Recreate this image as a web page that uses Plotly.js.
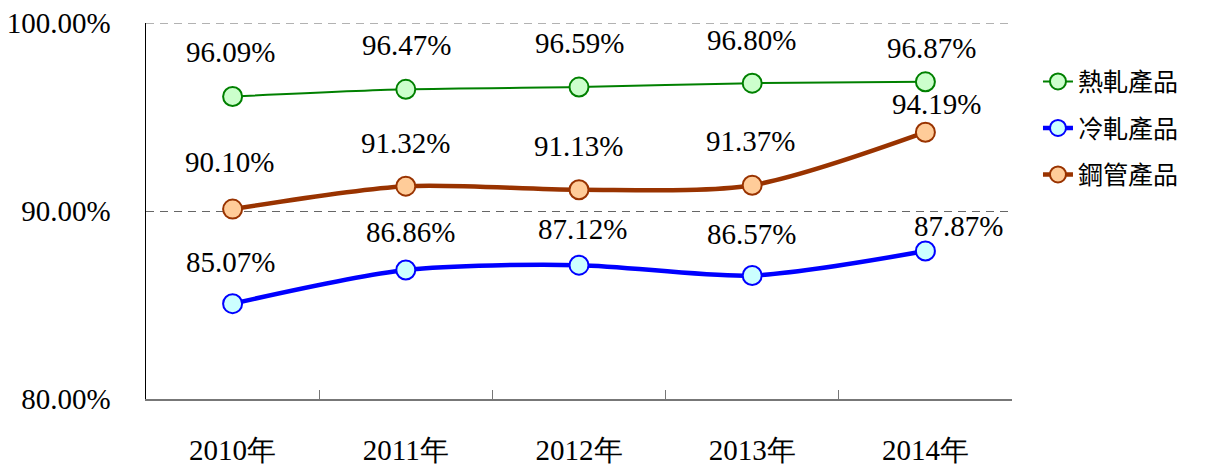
<!DOCTYPE html>
<html><head><meta charset="utf-8">
<script src="https://cdn.plot.ly/plotly-3.0.1.min.js"></script>
<style>html,body{margin:0;padding:0;background:#fff}#c{width:1221px;height:467px}
#c text{font-family:'Liberation Serif',serif !important}
#c text.legendtext{font-family:'Noto Sans CJK TC',sans-serif !important}</style>
</head><body>
<div id="c"></div>
<script>
const years = ["2010年","2011年","2012年","2013年","2014年"];
const hotRolled = [96.09, 96.47, 96.59, 96.80, 96.87];
const coldRolled = [85.07, 86.86, 87.12, 86.57, 87.87];
const steelPipe = [90.10, 91.32, 91.13, 91.37, 94.19];
const seriesNames = ["熱軋產品","冷軋產品","鋼管產品"];
const yTicks = [80, 90, 100];
const yTickLabels = ["80.00%","90.00%","100.00%"];

const serifFont = 'Liberation Serif';
const series = [
  {y: hotRolled, name: seriesNames[0], line: '#008000', fill: '#ccffcc', w: 2,
   dy: [45, 44, 44, 43, 34], dx: [-2, 1, 0, -1, 6]},
  {y: coldRolled, name: seriesNames[1], line: '#0000ff', fill: '#ccffff', w: 4.5,
   dy: [42, 38, 36, 41, 25], dx: [-2, 5, 3, -1, 33]},
  {y: steelPipe, name: seriesNames[2], line: '#993300', fill: '#ffcc99', w: 4.5,
   dy: [47, 43, 44, 44, 28], dx: [-3, 0, -1, -2, 11]}
];

const traces = series.map((s, i) => ({
  x: years, y: s.y, name: s.name, type: 'scatter', mode: 'lines+markers',
  legendgroup: 'g' + i,
  line: {color: s.line, width: s.w, shape: 'spline', smoothing: 0.8},
  marker: {size: 19, color: s.fill, line: {color: s.line, width: 2}},
  hoverinfo: 'skip'
}));

const annotations = [];
series.forEach(s => {
  s.y.forEach((v, j) => {
    annotations.push({
      x: years[j], y: v, xref: 'x', yref: 'y', text: v.toFixed(2) + '%',
      showarrow: false, yshift: s.dy[j], xshift: s.dx[j],
      font: {family: serifFont, size: 29, color: '#000000'}
    });
  });
});

const layout = {
  width: 1221, height: 467,
  font: {family: serifFont, size: 29, color: '#000000'},
  margin: {l: 146, r: 209, t: 23, b: 68, autoexpand: false},
  paper_bgcolor: '#fff', plot_bgcolor: '#fff',
  showlegend: true,
  legend: {x: 1.03, xanchor: 'left', y: 0.905, yanchor: 'top',
    font: {family: 'Noto Sans CJK TC', size: 25, color: '#000000'},
    tracegroupgap: 11, bgcolor: 'rgba(0,0,0,0)'},
  xaxis: {
    type: 'category', range: [-0.5, 4.5], tickson: 'boundaries',
    ticks: 'inside', ticklen: 9, tickcolor: '#777', tickwidth: 1,
    showline: true, linecolor: '#777', linewidth: 2, showgrid: false,
    tickfont: {family: serifFont, size: 29, color: '#000000'},
    ticklabelstandoff: 24, zeroline: false, fixedrange: true
  },
  yaxis: {
    range: [80, 100], tickvals: yTicks, ticktext: yTickLabels,
    showline: true, linecolor: '#000', linewidth: 1.5, ticks: '',
    showgrid: true, gridcolor: '#666', griddash: '8px,6px', gridwidth: 1,
    tickfont: {family: serifFont, size: 29, color: '#000000'},
    ticklabelstandoff: 28, zeroline: false, fixedrange: true
  },
  shapes: [{type: 'line', xref: 'paper', yref: 'y', x0: 0, x1: 1, y0: 100, y1: 100,
    line: {color: '#666', width: 1, dash: '8px,6px'}}],
  annotations: annotations
};

Plotly.newPlot('c', traces, layout, {displayModeBar: false, staticPlot: true});
</script></body></html>
